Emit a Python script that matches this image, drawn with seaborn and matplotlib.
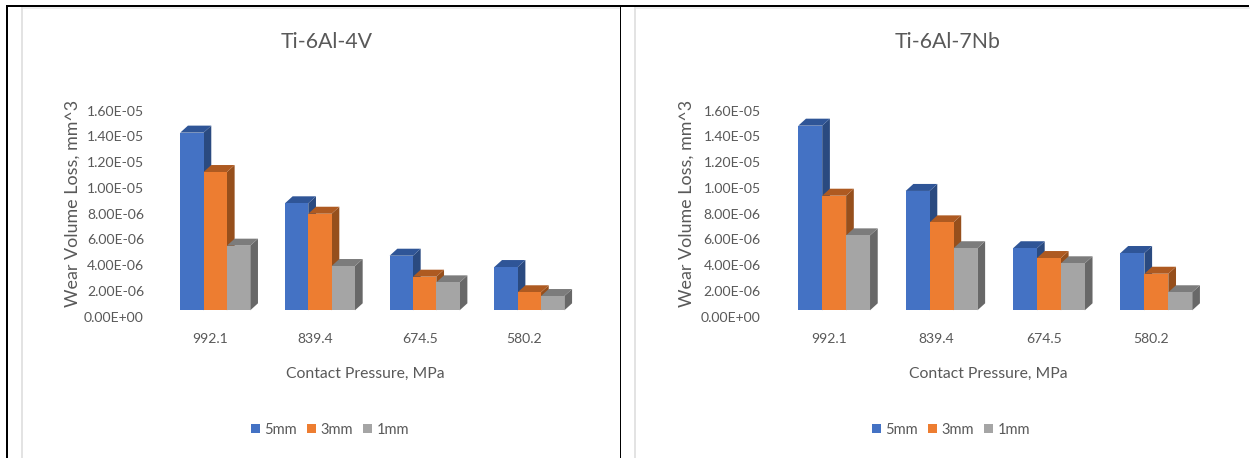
import matplotlib
matplotlib.use("Agg")
import matplotlib.pyplot as plt
from matplotlib.patches import Polygon, Rectangle
from matplotlib.transforms import IdentityTransform, ScaledTranslation
import pandas as pd
import seaborn as sns

pressures = ["992.1", "839.4", "674.5", "580.2"]
diameters = ["5mm", "3mm", "1mm"]

ti64_5mm = [1.38e-05, 8.31e-06, 4.24e-06, 3.36e-06]
ti64_3mm = [1.074e-05, 7.50e-06, 2.61e-06, 1.40e-06]
ti64_1mm = [5.02e-06, 3.44e-06, 2.17e-06, 1.11e-06]

ti67_5mm = [1.434e-05, 9.27e-06, 4.82e-06, 4.45e-06]
ti67_3mm = [8.90e-06, 6.83e-06, 4.06e-06, 2.84e-06]
ti67_1mm = [5.82e-06, 4.82e-06, 3.65e-06, 1.40e-06]

y_ticks = [0, 2e-06, 4e-06, 6e-06, 8e-06, 1e-05, 1.2e-05, 1.4e-05, 1.6e-05]

FRONT = ["#4472C4", "#ED7D31", "#A5A5A5"]
TOP = ["#2F5597", "#AE5A21", "#7C7C7C"]
SIDE = ["#2A4A80", "#964F1C", "#686868"]
TEXT = "#595959"

W, H = 1250, 458
DPI = 100

sns.set_theme(style="white")
plt.rcParams["font.family"] = ["Lato", "DejaVu Sans"]

fig = plt.figure(figsize=(W / DPI, H / DPI), dpi=DPI, facecolor="white")


def hbox(x0, y0, x1, y1, color):
    """Filled rectangle given in pixels from the top-left corner of the figure."""
    fig.add_artist(Rectangle((x0 / W, 1 - y1 / H), (x1 - x0) / W, (y1 - y0) / H,
                             transform=fig.transFigure, facecolor=color,
                             edgecolor="none", zorder=0))


def tidy(values_5, values_3, values_1):
    return pd.DataFrame({
        "pressure": pressures * 3,
        "diameter": [d for d in diameters for _ in pressures],
        "wear": list(values_5) + list(values_3) + list(values_1),
    })


def panel(title, frame, x_left, spacing, bar_width, tick_pad, title_x, xlabel_x, ylabel_x, legend_x):
    ax = fig.add_axes([x_left / W, 1 - 310.3 / H, 4 * spacing / W, 206 / H])
    sns.barplot(data=frame, x="pressure", y="wear", hue="diameter", order=pressures,
                hue_order=diameters, palette=FRONT, saturation=1, width=bar_width,
                gap=0, linewidth=0, errorbar=None, ax=ax)
    ax.set_xlim(-0.5, 3.5)
    ax.set_ylim(0, 1.6e-05)
    ax.set_xlabel("")
    ax.set_ylabel("")
    sns.despine(ax=ax, left=True, bottom=True)
    ax.set_yticks(y_ticks, labels=[f"{v:.2E}" for v in y_ticks])
    ax.tick_params(axis="y", length=0, pad=tick_pad * 72 / DPI, labelsize=10.1, labelcolor=TEXT)
    ax.tick_params(axis="x", length=0, pad=16.7, labelsize=10.1, labelcolor=TEXT)

    # Axis labels sit on the front edge of the floor, slightly off the bar faces
    for lab in ax.get_yticklabels():
        lab.set_transform(lab.get_transform() + ScaledTranslation(0, -6.3 / DPI, fig.dpi_scale_trans))
    for lab in ax.get_xticklabels():
        lab.set_transform(lab.get_transform() + ScaledTranslation(-5 / DPI, 0, fig.dpi_scale_trans))

    # Extruded top and side faces for each bar, drawn back to front
    dx, dy = 7.7, 7.0
    for s, container in enumerate(ax.containers):
        for i, bar in enumerate(container):
            (x0, y0), (x1, y1) = ax.transData.transform(
                [(bar.get_x(), bar.get_y()), (bar.get_x() + bar.get_width(), bar.get_y() + bar.get_height())])
            z = 2 + s * 3 + i * 0.01
            ax.add_patch(Polygon([(x1, y0), (x1 + dx, y0 + dy), (x1 + dx, y1 + dy), (x1, y1)],
                                 transform=IdentityTransform(), facecolor=SIDE[s], edgecolor="none",
                                 clip_on=False, zorder=z))
            ax.add_patch(Polygon([(x0, y1), (x1, y1), (x1 + dx, y1 + dy), (x0 + dx, y1 + dy)],
                                 transform=IdentityTransform(), facecolor=TOP[s], edgecolor="none",
                                 clip_on=False, zorder=z + 0.001))
            bar.set_zorder(z + 0.002)

    sns.move_legend(ax, "center", bbox_to_anchor=(legend_x / W, 1 - 429.5 / H),
                    bbox_transform=fig.transFigure, ncol=3, frameon=False, title=None,
                    fontsize=10.5, labelcolor=TEXT, handlelength=0.62, handleheight=0.62,
                    handletextpad=0.3, columnspacing=0.7)

    fig.text(title_x / W, 1 - 42 / H, title, ha="center", va="center", fontsize=15.3, color=TEXT)
    fig.text(xlabel_x / W, 1 - 374 / H, "Contact Pressure, MPa", ha="center", va="center",
             fontsize=11.3, color=TEXT)
    fig.text(ylabel_x / W, 1 - 203.5 / H, "Wear Volume Loss, mm^3", ha="center", va="center",
             rotation=90, fontsize=12.9, color=TEXT)
    return ax


# Surrounding frame: black rules and pale chart-area borders
hbox(22, 7, 620, 8.5, "#EDEDED")
hbox(635, 7, 1250, 8.5, "#EDEDED")
hbox(21.3, 7, 23, 458, "#E3E3E3")
hbox(634.3, 7, 636, 458, "#E3E3E3")
hbox(6, 5, 8, 458, "#000000")
hbox(6, 5, 1249, 7, "#000000")
hbox(619.5, 7, 621, 458, "#000000")

panel("Ti-6Al-4V", tidy(ti64_5mm, ti64_3mm, ti64_1mm), 162.9, 104.7, 0.669, 18.9, 327, 365, 73, 330)
panel("Ti-6Al-7Nb", tidy(ti67_5mm, ti67_3mm, ti67_1mm), 780.45, 107.4, 0.668, 19.75, 948, 988, 687, 951)

fig.savefig("out.png", dpi=DPI, facecolor="white")
